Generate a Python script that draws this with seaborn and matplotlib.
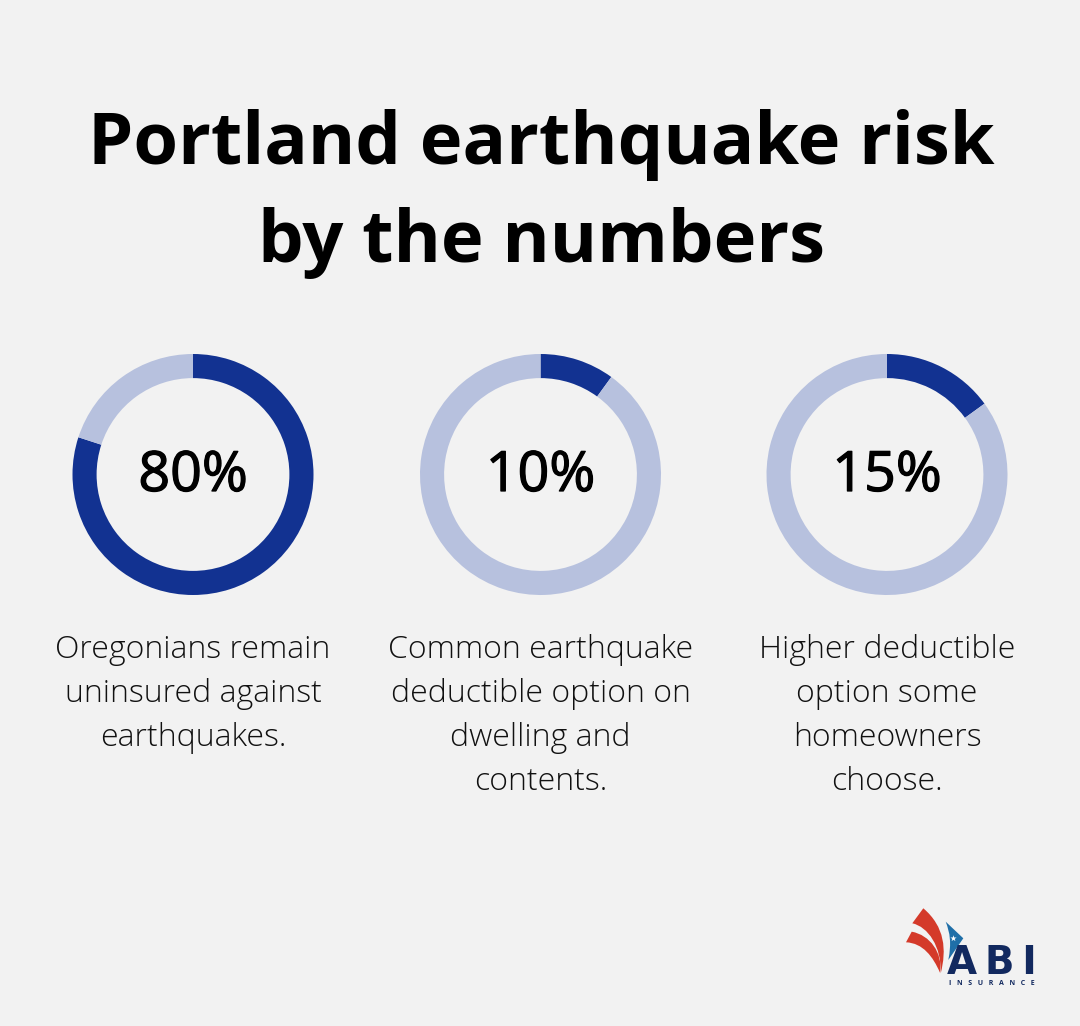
#!/usr/bin/env python3
# -*- coding: utf-8 -*-

import matplotlib
matplotlib.use("Agg")
import matplotlib.patheffects as pe
import matplotlib.pyplot as plt
import seaborn as sns
from matplotlib.patches import PathPatch
from matplotlib.path import Path

# Data
percents = [80, 10, 15]
labels = ["80%", "10%", "15%"]
captions = [
    "Oregonians remain\nuninsured against\nearthquakes.",
    "Common earthquake\ndeductible option on\ndwelling and\ncontents.",
    "Higher deductible\noption some\nhomeowners\nchoose.",
]
title_lines = ["Portland earthquake risk", "by the numbers"]

BG = "#f2f2f2"
DARK = "#123291"
LIGHT = "#b7c1de"
W, H = 1080, 1026

sns.set_theme(style="white")
plt.rcParams['font.family'] = ['Open Sans', 'DejaVu Sans']

fig = plt.figure(figsize=(W / 100, H / 100), dpi=100, facecolor=BG)

# Background layer in pixel coordinates for text and logo
bg = fig.add_axes([0, 0, 1, 1])
bg.set_xlim(0, W)
bg.set_ylim(H, 0)
bg.axis("off")

# Title
bg.text(541, 164, title_lines[0], ha="center", va="baseline",
        fontsize=52, fontweight="bold", color="black")
bg.text(541, 262, title_lines[1], ha="center", va="baseline",
        fontsize=52, fontweight="bold", color="black")

# Donuts
centers = [193, 540.5, 887]
cy = 474.5
radius = 120.5
for cx, pct, lab, cap in zip(centers, percents, labels, captions):
    ax = fig.add_axes([(cx - radius) / W, 1 - (cy + radius) / H,
                       2 * radius / W, 2 * radius / H])
    ax.pie([pct, 100 - pct], colors=[DARK, LIGHT], startangle=90, counterclock=False,
           radius=1, wedgeprops=dict(width=0.2, linewidth=0))
    ax.set_xlim(-1, 1)
    ax.set_ylim(-1, 1)
    ax.patch.set_alpha(0)

    # no medium weight installed, thicken the regular one a little
    bg.text(cx, 491, lab, ha="center", va="baseline", fontsize=40, color="black", zorder=5,
            path_effects=[pe.withStroke(linewidth=0.9, foreground="black")])

    for i, line in enumerate(cap.split("\n")):
        bg.text(cx, 658 + i * 44, line, ha="center", va="baseline", fontsize=23,
                fontweight=300, color="#111111")

# Logo
def shape(verts, color):
    codes = [Path.MOVETO]
    pts = [verts[0]]
    for seg in verts[1:]:
        if len(seg) == 3:
            codes += [Path.CURVE4] * 3
            pts += list(seg)
        else:
            codes.append(Path.LINETO)
            pts.append(seg)
    codes.append(Path.CLOSEPOLY)
    pts.append(verts[0])
    bg.add_patch(PathPatch(Path(pts, codes), facecolor=color, edgecolor="none"))

shape([(923.3, 908.3), ((945, 926.7), (946.7, 950), (940.7, 973.3)),
       ((941.7, 946.7), (928, 926.7), (912.3, 923.3))], "#d43a2a")
shape([(911.7, 931.7), ((930, 935), (943, 953), (940, 972.7)),
       ((933, 956.7), (923, 943), (906, 942.3))], "#d43a2a")
shape([(945.7, 921.7), (963.3, 938.3), (948.3, 960),
       ((951.7, 943), (950, 933), (945.7, 921.7))], "#1f6fa8")
bg.scatter([952.7], [938], marker="*", s=22, color="white", linewidths=0, zorder=4)

bg.text(992, 973.5, "A\u2009B\u2009I", ha="center", va="baseline", fontsize=28,
        fontweight="bold", family=["DejaVu Sans"], color="#12295f", zorder=5)
bg.text(992, 985, "I   N   S   U   R   A   N   C   E", ha="center", va="baseline", fontsize=5,
        fontweight="bold", color="#12295f")

fig.savefig("out.png", dpi=100, facecolor=BG)
